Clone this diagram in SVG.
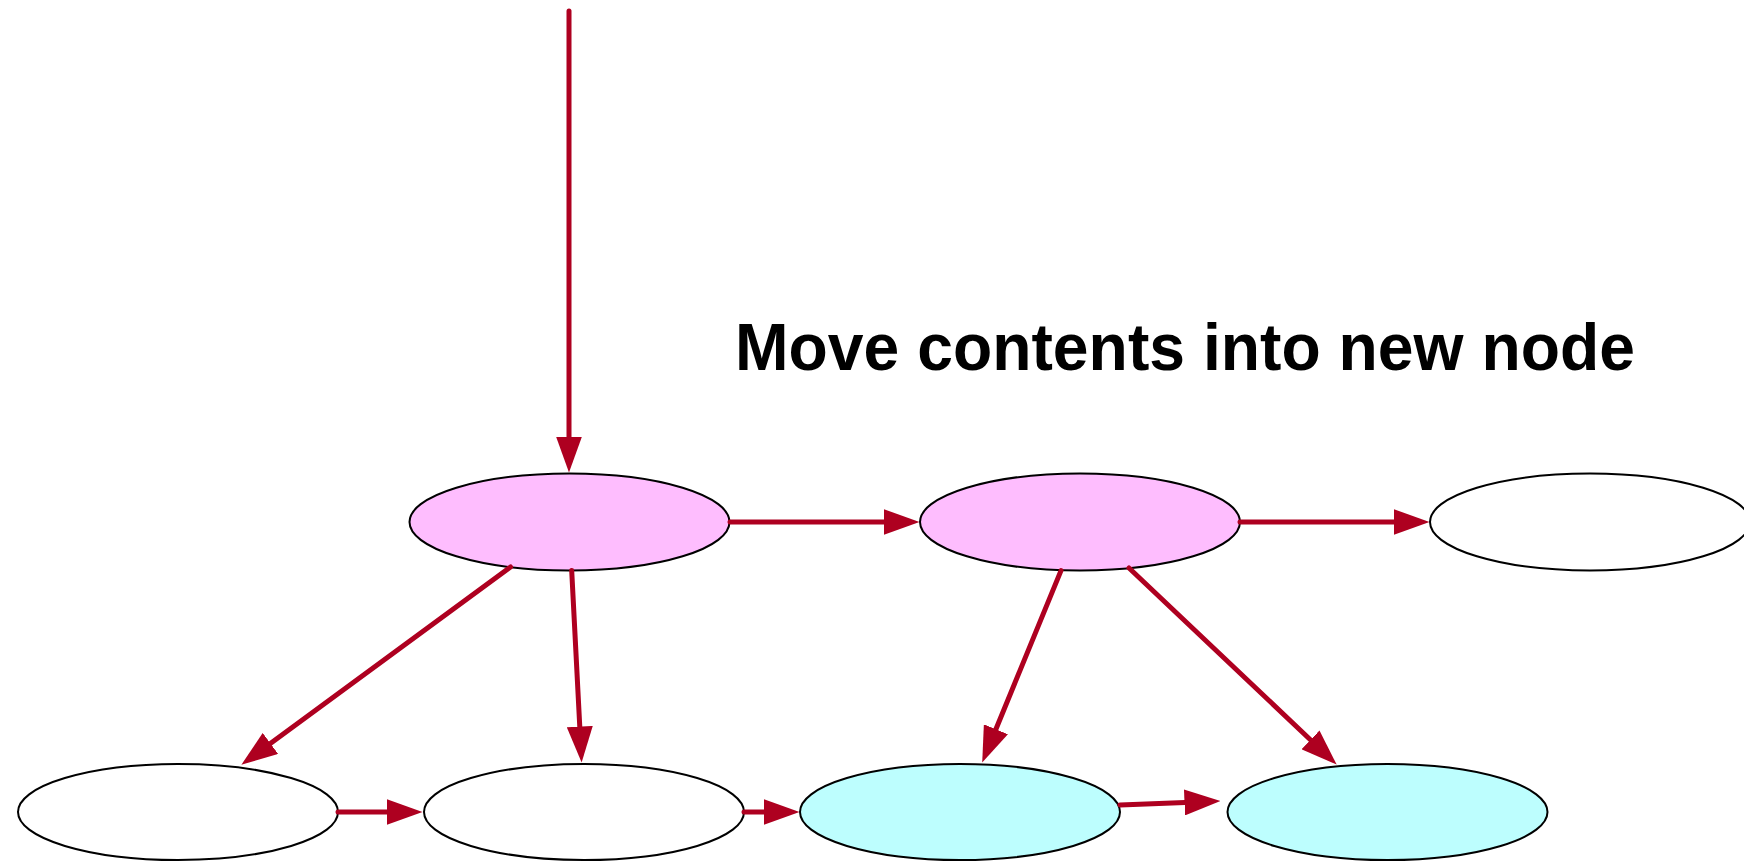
<svg xmlns="http://www.w3.org/2000/svg" width="1744" height="861" viewBox="0 0 1744 861">
  <style>
    .node { stroke: #000000; stroke-width: 2; }
    .plain { fill: #ffffff; }
    .moved { fill: #febdfe; }
    .fresh { fill: #bdfefe; }
    .edge { fill: none; stroke: #ae0020; stroke-width: 5; stroke-linecap: round; marker-end: url(#head); }
    .title { font-family: "Liberation Sans", Arial, Helvetica, sans-serif; font-weight: bold; font-size: 66px; fill: #000000; }
  </style>
  <defs>
    <marker id="head" viewBox="0 -13 36 26" markerUnits="userSpaceOnUse" markerWidth="36" markerHeight="26" refX="0.5" refY="0" orient="auto">
      <path d="M0,-13 L36,0 L0,13 Z" fill="#ae0020"/>
    </marker>
  </defs>

  <rect width="1744" height="861" fill="#ffffff"/>

  <text class="title" x="735" y="370" textLength="900" lengthAdjust="spacingAndGlyphs">Move contents into new node</text>

  <!-- upper row -->
  <g id="node-a"><ellipse class="node moved" cx="569.5" cy="522" rx="160" ry="48.5"/></g>
  <g id="node-b"><ellipse class="node moved" cx="1080" cy="522" rx="160" ry="48.5"/></g>
  <g id="node-c"><ellipse class="node plain" cx="1590" cy="522" rx="160" ry="48.5"/></g>

  <!-- lower row -->
  <g id="node-d"><ellipse class="node plain" cx="178" cy="812" rx="160" ry="48"/></g>
  <g id="node-e"><ellipse class="node plain" cx="584" cy="812" rx="160" ry="48"/></g>
  <g id="node-f"><ellipse class="node fresh" cx="960" cy="812" rx="160" ry="48"/></g>
  <g id="node-g"><ellipse class="node fresh" cx="1387.5" cy="812" rx="160" ry="48"/></g>

  <g id="connectors">
    <path class="edge" d="M569,11 L569,437"/>
    <path class="edge" d="M730,522 L884,522"/>
    <path class="edge" d="M1240,522 L1394,522"/>
    <path class="edge" d="M510.5,567 L270,743.7"/>
    <path class="edge" d="M571.7,570.6 L579.8,727.1"/>
    <path class="edge" d="M1061,570.6 L995.7,729.7"/>
    <path class="edge" d="M1129,568 L1310.9,740.2"/>
    <path class="edge" d="M338,812 L387,812"/>
    <path class="edge" d="M744,812 L764,812"/>
    <path class="edge" d="M1120,805 L1185,802.4"/>
  </g>
</svg>
